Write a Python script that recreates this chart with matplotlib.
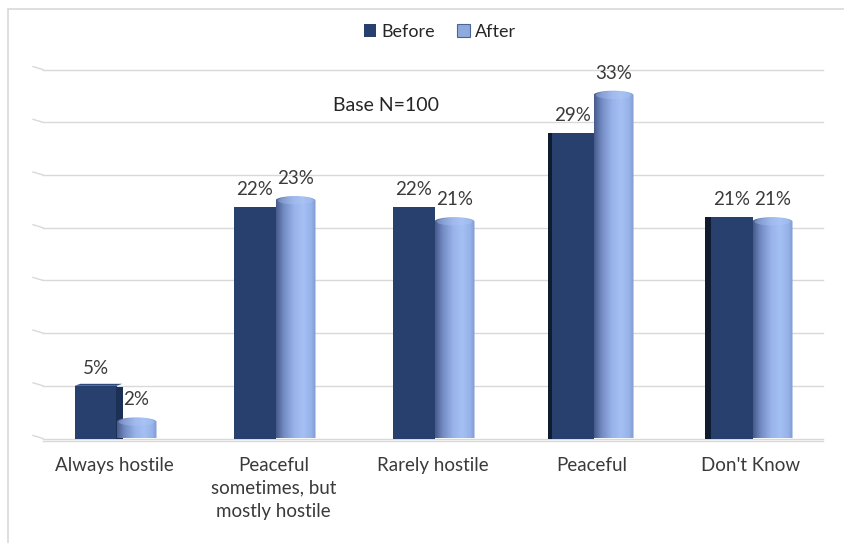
import numpy as np
import matplotlib
matplotlib.use("Agg")
import matplotlib.pyplot as plt
from matplotlib.patches import Rectangle, Polygon, Ellipse
from matplotlib.colors import LinearSegmentedColormap

plt.rcParams['font.family'] = ['Lato', 'DejaVu Sans']

categories = ["Always hostile", "Peaceful\nsometimes, but\nmostly hostile",
              "Rarely hostile", "Peaceful", "Don't Know"]
before = [5, 22, 22, 29, 21]
after = [2, 23, 21, 33, 21]
series_names = ["Before", "After"]
note = "Base N=100"

W, H = 845, 543
fig = plt.figure(figsize=(W / 100, H / 100), dpi=100)

# plot area in pixels
left_px, right_px = 35, 830
base_px, top_px = 438.5, 69.6
ax = fig.add_axes([left_px / W, (H - base_px) / H,
                   (right_px - left_px) / W, (base_px - top_px) / H])
ax.set_xlim(-0.5, len(categories) - 0.5)
ax.set_ylim(0, 35)
for s in ax.spines.values():
    s.set_visible(False)
ax.set_yticks([])
ax.set_xticks(range(len(categories)))
ax.set_xticklabels(categories, fontsize=13.5, color="#3a3a3a", linespacing=1.45,
                   va="top")
ax.tick_params(axis="x", length=0, pad=13)

px = 1.0 / 159.0   # one pixel in x data units
py = 35.0 / (base_px - top_px)  # one pixel in y data units

# gridlines with a short perspective stub on the left
grid_col = "#d9d9d9"
for g in range(0, 36, 5):
    ax.plot([-0.5 + 8 * px, 4.5 - 7 * px], [g, g], color=grid_col, lw=1.0,
            zorder=0, clip_on=False)
    ax.plot([-0.5 - 2 * px, -0.5 + 8 * px], [g + 3 * py, g], color=grid_col,
            lw=1.0, zorder=0, clip_on=False)
ax.plot([-0.5 + 8 * px, 4.5 - 7 * px], [-0.2, -0.2], color=grid_col, lw=1.0,
        zorder=0, clip_on=False)

navy = "#27406d"
navy_side = "#1c3056"
navy_dark = "#101b30"

# Before: flat prisms
for i, v in enumerate(before):
    x0 = i - 40 * px
    x1 = i + 2 * px
    ax.add_patch(Rectangle((x0, 0), x1 - x0, v, facecolor=navy,
                           edgecolor="none", zorder=2))
    if i == 0:
        ax.add_patch(Rectangle((x1 - 1 * px, 0), 7 * px, v - 0.1, facecolor=navy_side,
                               edgecolor="none", zorder=2))
        ax.add_patch(Polygon([(x0, v), (x1, v), (x1 + 6 * px, v + 2 * py),
                              (x0 + 6 * px, v + 2 * py)], closed=True,
                             facecolor="#2e4a7c", edgecolor="none", zorder=2))
    if i == 3:
        ax.add_patch(Rectangle((x0 - 4 * px, 0), 4 * px, v, facecolor=navy_dark,
                               edgecolor="none", zorder=2))
    if i == 4:
        ax.add_patch(Rectangle((x0 - 6 * px, 0), 6 * px, v, facecolor=navy_dark,
                               edgecolor="none", zorder=2))
    ax.text(i - 19 * px, v + 9 * py, f"{v}%", ha="center", va="bottom",
            fontsize=13.5, color="#3a3a3a", zorder=5)

# After: shaded cylinders
cyl_cmap = LinearSegmentedColormap.from_list(
    "cyl", [(0.0, "#46598a"), (0.18, "#7088bf"), (0.45, "#98b3ea"),
            (0.68, "#a4c0f3"), (0.88, "#96b3e9"), (1.0, "#7e9ad1")])
grad = np.linspace(0, 1, 256).reshape(1, -1)
cap_h = 9 * py
for i, v in enumerate(after):
    x0 = i + 2 * px
    x1 = i + 42 * px
    cx = (x0 + x1) / 2
    hw = (x1 - x0) / 2
    yc = v - cap_h / 2
    th = np.linspace(0, np.pi, 60)
    pts = [(x0, 0), (x1, 0)] + [(cx + hw * np.cos(t), yc + cap_h / 2 * np.sin(t))
                                for t in th]
    body = Polygon(pts, closed=True, facecolor="none", edgecolor="none", zorder=3)
    ax.add_patch(body)
    im = ax.imshow(grad, cmap=cyl_cmap, extent=(x0, x1, 0, v), aspect="auto",
                   zorder=3, interpolation="bilinear")
    im.set_clip_path(body)
    cap = Ellipse((cx, yc), 2 * hw * 0.9, cap_h * 0.85, facecolor="#b0c8f5",
                  edgecolor="none", alpha=0.35, zorder=4)
    ax.add_patch(cap)
    ax.text(cx, v + 9 * py, f"{v}%", ha="center", va="bottom",
            fontsize=13.5, color="#3a3a3a", zorder=5)

ax.text(1.707, 31.6, note, ha="center", va="center", fontsize=14,
        color="#262626")

# legend
h_before = Rectangle((0, 0), 1, 1, facecolor=navy, edgecolor="none")
h_after = Rectangle((0, 0), 1, 1, facecolor="#8ea9dc", edgecolor="#4c6494", lw=0.8)
fig.legend([h_before, h_after], series_names, loc="center",
           bbox_to_anchor=(440 / W, 1 - 32 / H), ncol=2, frameon=False,
           fontsize=13, handlelength=0.7, handleheight=0.7, handletextpad=0.3,
           columnspacing=1.2, labelcolor="#262626")

# outer frame
fig.patches.append(Rectangle((8 / W, -0.1), 1.2, (H - 9) / H + 0.1,
                             transform=fig.transFigure, facecolor="none",
                             edgecolor="#d9d9d9", lw=1.2, zorder=0))

fig.savefig("out.png", dpi=100)
